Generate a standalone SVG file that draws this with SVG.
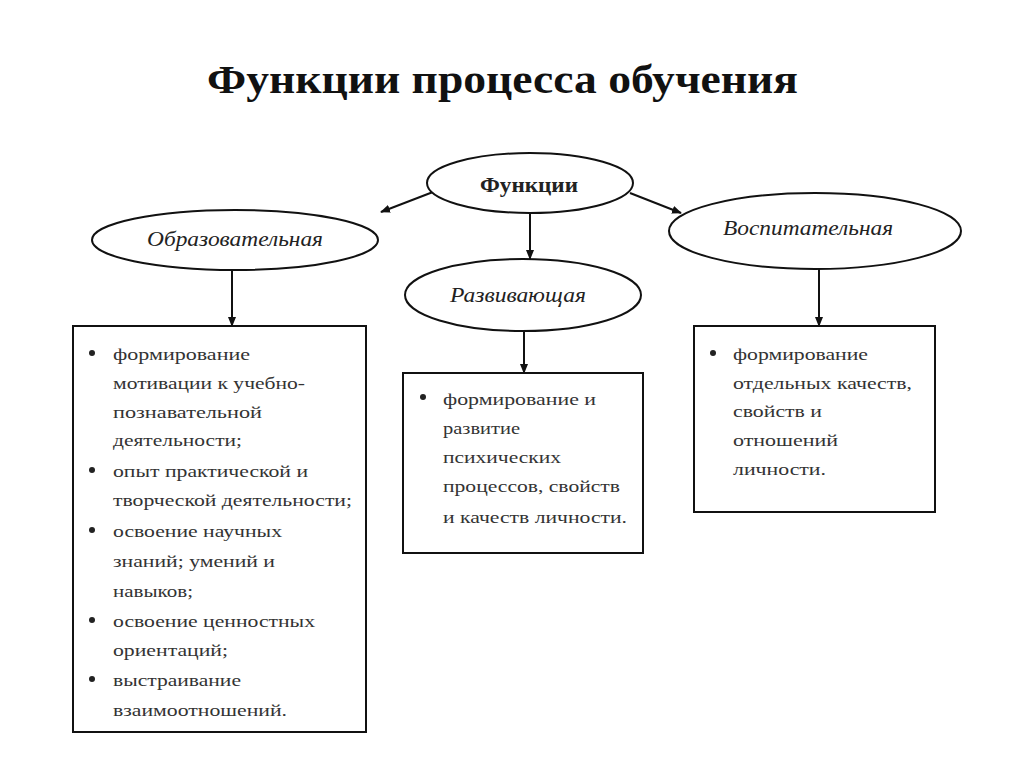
<svg xmlns="http://www.w3.org/2000/svg" width="1024" height="767" viewBox="0 0 1024 767">
<defs>
<marker id="ah" markerWidth="10" markerHeight="10" refX="9" refY="5" orient="auto" markerUnits="userSpaceOnUse">
<path d="M0,1 L10,5 L0,9 Z" fill="#111"/>
</marker>
<style>
.shape{fill:#fff;stroke:#111;stroke-width:2}
.conn{stroke:#111;stroke-width:2;fill:none;marker-end:url(#ah)}
.lab{font-family:"Liberation Serif","Times New Roman",serif;font-style:italic;font-size:20px;fill:#222}
.body{font-family:"Liberation Serif","Times New Roman",serif;font-size:17px;fill:#333}
.title{font-family:"Liberation Serif","Times New Roman",serif;font-weight:bold;font-size:40px;fill:#111}
.bul{fill:#222}
</style>
</defs>
<rect width="1024" height="767" fill="#fff"/>
<text class="title" x="207" y="93" textLength="591" lengthAdjust="spacingAndGlyphs">Функции процесса обучения</text>

<g id="connectors">
<line class="conn" x1="433" y1="192" x2="381" y2="212"/>
<line class="conn" x1="530" y1="213" x2="530" y2="259"/>
<line class="conn" x1="630" y1="193" x2="681" y2="213"/>
<line class="conn" x1="232" y1="270" x2="232" y2="326"/>
<line class="conn" x1="524" y1="331" x2="524" y2="373"/>
<line class="conn" x1="819" y1="269" x2="819" y2="326"/>
</g>

<g id="functions">
<ellipse class="shape" cx="530" cy="183" rx="103" ry="30"/>
<text x="480" y="192" font-family="Liberation Serif, Times New Roman, serif" font-weight="bold" font-size="22" fill="#222" textLength="98" lengthAdjust="spacingAndGlyphs">Функции</text>
</g>

<g id="educational">
<ellipse class="shape" cx="235" cy="240" rx="143" ry="30"/>
<text class="lab" x="147" y="246" textLength="176" lengthAdjust="spacingAndGlyphs">Образовательная</text>
</g>

<g id="developing">
<ellipse class="shape" cx="523" cy="295" rx="118" ry="36"/>
<text class="lab" x="450" y="302" textLength="136" lengthAdjust="spacingAndGlyphs">Развивающая</text>
</g>

<g id="upbringing">
<ellipse class="shape" cx="815" cy="231" rx="146" ry="38"/>
<text class="lab" x="723" y="235" textLength="170" lengthAdjust="spacingAndGlyphs">Воспитательная</text>
</g>

<g id="box-educational">
<rect class="shape" x="73" y="326" width="293" height="406"/>
<circle class="bul" cx="92" cy="353" r="3"/>
<circle class="bul" cx="92" cy="470" r="3"/>
<circle class="bul" cx="92" cy="530" r="3"/>
<circle class="bul" cx="92" cy="620" r="3"/>
<circle class="bul" cx="92" cy="679" r="3"/>
<text class="body" x="113" y="360" textLength="137" lengthAdjust="spacingAndGlyphs">формирование</text>
<text class="body" x="113" y="389" textLength="192" lengthAdjust="spacingAndGlyphs">мотивации к учебно-</text>
<text class="body" x="113" y="418" textLength="149" lengthAdjust="spacingAndGlyphs">познавательной</text>
<text class="body" x="113" y="446" textLength="129" lengthAdjust="spacingAndGlyphs">деятельности;</text>
<text class="body" x="113" y="477" textLength="195" lengthAdjust="spacingAndGlyphs">опыт практической и</text>
<text class="body" x="113" y="506" textLength="239" lengthAdjust="spacingAndGlyphs">творческой деятельности;</text>
<text class="body" x="113" y="537" textLength="169" lengthAdjust="spacingAndGlyphs">освоение научных</text>
<text class="body" x="113" y="567" textLength="162" lengthAdjust="spacingAndGlyphs">знаний; умений и</text>
<text class="body" x="113" y="597" textLength="80" lengthAdjust="spacingAndGlyphs">навыков;</text>
<text class="body" x="113" y="627" textLength="202" lengthAdjust="spacingAndGlyphs">освоение ценностных</text>
<text class="body" x="113" y="656" textLength="115" lengthAdjust="spacingAndGlyphs">ориентаций;</text>
<text class="body" x="113" y="686" textLength="128" lengthAdjust="spacingAndGlyphs">выстраивание</text>
<text class="body" x="113" y="716" textLength="174" lengthAdjust="spacingAndGlyphs">взаимоотношений.</text>
</g>

<g id="box-developing">
<rect class="shape" x="403" y="373" width="240" height="180"/>
<circle class="bul" cx="423" cy="397" r="3"/>
<text class="body" x="443" y="405" textLength="153" lengthAdjust="spacingAndGlyphs">формирование и</text>
<text class="body" x="443" y="434" textLength="77" lengthAdjust="spacingAndGlyphs">развитие</text>
<text class="body" x="443" y="463" textLength="118" lengthAdjust="spacingAndGlyphs">психических</text>
<text class="body" x="443" y="492" textLength="177" lengthAdjust="spacingAndGlyphs">процессов, свойств</text>
<text class="body" x="443" y="523" textLength="184" lengthAdjust="spacingAndGlyphs">и качеств личности.</text>
</g>

<g id="box-upbringing">
<rect class="shape" x="694" y="326" width="241" height="186"/>
<circle class="bul" cx="713" cy="353" r="3"/>
<text class="body" x="733" y="360" textLength="135" lengthAdjust="spacingAndGlyphs">формирование</text>
<text class="body" x="733" y="389" textLength="179" lengthAdjust="spacingAndGlyphs">отдельных качеств,</text>
<text class="body" x="733" y="417" textLength="89" lengthAdjust="spacingAndGlyphs">свойств и</text>
<text class="body" x="733" y="446" textLength="105" lengthAdjust="spacingAndGlyphs">отношений</text>
<text class="body" x="733" y="475" textLength="93" lengthAdjust="spacingAndGlyphs">личности.</text>
</g>
</svg>
